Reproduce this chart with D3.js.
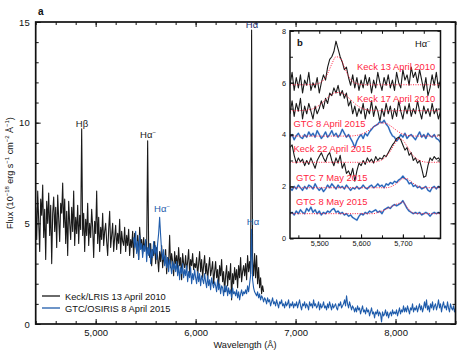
<!DOCTYPE html>
<html><head><meta charset="utf-8">
<script src="https://cdn.jsdelivr.net/npm/d3@7"></script>
<style>
html,body{margin:0;padding:0;background:#fff;}
svg{display:block;font-family:"Liberation Sans",Arial,sans-serif;}
</style></head>
<body><svg id="c" width="462" height="357"></svg>
<script>
// ---------- DATA ----------
// Panel a: Keck/LRIS 13 April 2010, flux sampled every 10 Å from 4400 Å
const keckStart = 4400, keckStep = 10;
const keckFlux = [
5.8,4.2,6.6,5.1,3.6,6.2,5.4,6.9,4.3,5.7,
3.2,6.1,5.0,6.5,4.4,5.9,3.0,5.5,6.3,4.6,
5.8,3.8,6.4,5.2,4.1,6.0,5.5,7.0,4.8,6.2,
4.0,5.6,3.4,6.1,5.0,4.2,5.8,4.6,6.6,3.9,
5.3,4.5,5.9,4.0,5.4,4.7,9.7,4.4,5.5,3.6,
5.2,4.4,6.0,3.9,5.0,4.3,5.7,4.8,3.3,5.1,
4.5,6.6,4.0,5.3,3.6,4.8,4.2,5.5,3.9,4.6,
5.0,4.1,3.4,4.7,5.6,3.8,4.4,5.0,3.6,4.3,
4.9,3.7,4.5,4.0,5.2,3.5,4.6,4.1,3.9,4.8,
3.6,4.4,3.9,4.7,3.4,4.2,3.8,4.6,3.3,4.5,
4.0,3.6,4.4,3.2,4.8,3.9,4.2,3.5,4.3,3.7,
4.1,3.6,9.1,3.8,3.3,4.0,2.9,3.7,3.4,4.1,
3.0,3.8,3.3,2.6,3.6,3.1,3.9,2.8,3.4,3.0,
3.7,2.5,3.3,3.0,4.4,2.8,3.5,3.1,2.4,3.6,
3.0,3.4,2.7,3.8,2.9,3.3,2.2,3.5,3.0,2.8,
3.4,2.6,3.1,3.7,2.5,3.2,2.9,3.5,2.7,3.0,
2.8,3.3,2.4,3.0,3.6,2.6,3.2,2.3,2.9,3.4,
2.5,3.0,2.2,2.8,3.3,2.4,2.7,3.1,2.0,2.6,
3.1,2.3,2.7,1.8,2.9,2.4,3.2,2.1,2.6,1.6,
2.4,2.9,1.9,2.6,2.2,3.0,1.2,2.5,2.0,2.8,
2.2,2.7,1.8,2.9,2.3,3.3,2.1,2.6,2.9,2.4,
3.0,2.2,3.4,2.6,3.1,2.5,14.6,3.2,2.4,3.5,
2.3,3.4,2.0,2.8,1.8,2.3,1.5,1.9,1.6
];
// Panel a: GTC/OSIRIS 8 April 2015, flux every 10 Å from 5380 Å
const gtcStart = 5380, gtcStep = 10;
const gtcFlux = [
4.3,3.8,
4.6,3.5,4.1,3.2,4.4,3.7,4.0,3.3,3.9,3.6,
4.2,3.1,3.8,3.4,4.0,3.0,3.7,3.3,4.1,3.5,
3.9,3.2,4.0,4.5,5.3,4.4,3.6,3.2,3.7,2.9,
3.4,2.8,3.3,2.6,3.2,2.9,2.5,3.1,2.7,3.0,
2.6,3.1,2.4,2.9,2.2,2.8,2.5,3.0,2.3,2.7,
2.4,2.9,2.1,2.6,2.3,2.8,2.0,2.5,2.2,2.7,
2.3,2.0,2.6,2.1,2.5,1.9,2.4,2.2,2.0,2.5,
2.1,1.8,2.4,1.9,2.2,1.7,2.3,2.0,1.8,2.1,
1.9,1.6,2.2,1.7,2.0,1.5,1.9,1.8,1.4,1.9,
1.6,1.9,1.4,1.8,1.5,1.7,1.3,1.8,1.5,1.6,
1.4,1.7,1.3,1.6,1.2,1.5,1.7,1.4,1.6,1.5,
1.7,1.5,1.9,1.6,2.0,2.4,4.7,2.2,1.8,1.6,
1.5,1.4,1.6,1.3,1.5,1.2,1.4,1.3,1.1,1.3,
1.2,1.0,1.3,1.1,1.2,0.9,1.1,1.3,1.0,1.1,
0.9,1.2,1.0,0.8,1.1,1.0,1.2,0.9,1.0,0.8,
1.1,0.9,1.0,1.2,0.8,1.0,0.9,1.1,0.8,1.0,
0.9,1.1,0.8,1.0,1.2,0.9,0.7,1.0,0.9,1.1,
0.8,1.0,0.9,0.7,1.1,0.9,1.0,0.8,1.2,0.9,
1.0,0.8,0.9,1.1,0.7,1.0,0.8,0.9,1.1,0.8,
0.9,0.7,1.0,0.8,1.1,0.9,0.7,1.0,0.8,0.9,
1.0,0.8,0.7,1.0,0.9,1.1,0.8,0.9,1.0,1.2,
0.9,1.4,1.0,0.8,1.1,0.9,0.7,0.9,0.8,0.6,
0.8,0.6,0.9,0.7,0.8,0.5,0.7,0.9,0.6,0.7,
0.5,0.8,0.6,0.7,0.4,0.6,0.8,0.5,0.6,0.3,
0.6,0.5,0.7,0.4,0.6,0.5,0.1,0.6,0.4,0.5,
0.7,0.4,0.6,0.3,0.5,0.6,0.4,0.7,0.5,0.6,
0.5,0.7,0.4,0.6,0.8,0.5,0.7,0.6,0.9,0.6,
0.8,0.6,0.9,0.7,0.5,0.8,0.7,1.0,0.6,0.8,
0.7,0.9,0.6,0.8,1.0,0.7,0.9,0.6,0.8,1.1,
0.8,1.2,0.7,0.9,0.6,1.0,0.8,1.1,0.7,0.9,
1.0,0.7,0.9,1.2,0.8,1.0,0.6,0.9,1.1,0.8,
0.9,0.7,1.1,0.8,0.6,1.0,0.8,0.7,0.9,0.6,
0.8
];
const mainLineLabels = [
  {text:"Hβ", color:"black"},
  {text:"Hα", sup:"−", color:"black"},
  {text:"Hα", color:"navy"},
  {text:"Hα", sup:"−", color:"blue"},
  {text:"Hα", color:"blue"}
];
const legendNames = ["Keck/LRIS 13 April 2010", "GTC/OSIRIS 8 April 2015"];

// Panel b: zoom on Hα⁻, every 5 Å from 5430 Å
const insetStart = 5430, insetStep = 5;
const insetNames = ["Keck 13 April 2010","Keck 17 April 2010","GTC 8 April 2015","Keck 22 April 2015","GTC 7 May 2015","GTC 8 May 2015"];
const insetInstrument = ["Keck","Keck","GTC","Keck","GTC","GTC"];
const keck13 = [5.9,6.4,5.7,6.2,5.8,6.3,5.6,6.1,5.9,6.4,5.7,6.0,5.8,6.2,5.6,6.0,6.3,6.1,6.6,6.9,7.0,7.2,7.6,7.3,7.0,6.8,6.5,6.6,6.2,5.9,6.3,5.8,6.2,5.7,6.1,5.8,6.3,5.9,6.2,5.6,6.1,5.8,6.4,6.0,5.7,6.2,5.9,6.3,5.8,6.1,5.7,6.4,6.0,5.8,6.5,6.1,6.3,5.9,6.6,6.2,6.4,6.0,6.5,6.1,5.7,6.2,5.5,5.8,6.3,5.9,6.4,5.8,6.1];
const keck17 = [4.8,5.3,4.7,5.2,4.9,5.4,4.6,5.1,4.8,5.2,4.9,4.6,5.1,4.8,5.0,5.3,5.0,5.4,5.2,5.6,5.5,5.8,5.6,5.9,5.5,5.7,5.4,5.6,5.1,5.3,4.8,5.1,4.7,5.0,4.8,5.2,4.6,5.0,4.8,5.3,4.7,5.1,4.9,4.5,5.0,4.7,5.2,4.8,5.1,4.6,5.0,4.7,5.3,4.9,4.6,5.1,4.8,5.2,4.7,5.0,4.8,5.3,4.9,4.6,5.1,4.8,5.0,4.7,5.2,4.8,5.0,4.6,4.9];
const gtc8apr = [3.9,4.0,3.8,3.95,4.05,3.9,3.85,4.0,3.9,4.1,3.95,4.05,3.9,4.15,4.0,3.85,3.95,4.1,3.9,4.0,4.15,3.95,4.05,3.9,4.0,4.2,4.05,3.9,4.0,3.85,3.7,3.5,3.75,3.9,4.0,3.85,4.05,3.95,4.1,4.2,4.3,4.35,4.4,4.5,4.45,4.55,4.4,4.3,4.1,3.95,3.9,3.75,3.85,4.0,3.9,4.05,3.85,3.95,4.0,3.9,3.8,3.95,4.1,3.9,4.0,3.85,4.05,3.95,3.9,4.0,3.85,3.8,3.7];
const keck22 = [3.5,3.6,3.2,2.9,3.1,2.95,3.05,2.8,3.0,2.85,3.1,2.9,2.7,3.0,3.15,3.3,3.1,2.95,3.2,3.3,3.0,2.8,3.1,2.9,3.2,2.7,2.9,2.5,2.6,2.4,2.7,2.2,2.6,2.9,2.8,3.0,2.85,3.1,2.95,3.05,2.9,3.15,3.0,3.1,3.05,3.2,3.15,3.3,3.45,3.6,3.7,3.85,3.9,3.8,3.6,3.4,3.5,3.2,3.3,3.0,3.1,2.9,3.0,2.7,2.35,2.4,2.8,3.1,3.0,3.15,3.05,3.1,3.0];
const gtc7may = [1.95,1.85,2.0,1.9,2.05,1.95,1.85,2.0,1.9,2.05,2.0,1.9,2.1,1.95,1.85,1.95,1.8,1.9,2.05,1.95,2.1,2.0,1.9,2.05,1.95,2.0,1.9,2.05,1.95,1.85,1.95,1.9,2.0,1.9,1.95,2.05,1.95,1.9,2.0,2.05,1.95,2.0,2.1,2.0,2.05,1.95,2.1,2.05,2.15,2.1,2.2,2.15,2.25,2.3,2.4,2.3,2.25,2.1,2.15,2.0,2.05,1.95,2.0,1.9,1.95,2.0,1.85,1.8,1.95,2.0,1.9,2.0,1.95];
const gtc8may = [0.95,1.0,0.9,1.05,0.95,1.1,1.0,0.95,1.15,1.05,1.2,1.0,1.1,0.95,1.05,0.9,1.0,0.95,1.05,1.0,1.1,1.15,1.0,1.05,0.95,1.0,0.9,0.95,0.85,0.9,0.8,0.75,0.7,0.85,0.95,0.9,1.0,0.95,1.05,1.0,1.05,1.1,1.0,1.05,0.95,1.1,1.15,1.2,1.15,1.25,1.3,1.25,1.3,1.35,1.45,1.3,1.15,1.05,1.0,0.95,1.0,0.95,1.0,0.9,0.95,1.0,0.95,0.85,0.95,1.0,0.95,1.0,0.95];
// Model fits (red dotted), every 10 Å from 5430 Å
const fitStart = 5430, fitStep = 10;
const fitKeck13 = [5.92,5.92,5.92,5.92,5.92,5.93,5.94,5.98,6.1,6.35,6.72,7.0,6.95,6.6,6.25,6.04,5.96,5.93,5.92,5.92,5.92,5.92,5.92,5.92,5.92,5.92,5.92,5.92,5.92,5.92,5.92,5.92,5.92,5.92,5.92,5.92,5.92];
const fitKeck17 = [4.92,4.92,4.92,4.93,4.94,4.97,5.03,5.13,5.27,5.42,5.55,5.62,5.62,5.55,5.42,5.27,5.13,5.03,4.97,4.94,4.93,4.92,4.92,4.92,4.92,4.92,4.92,4.92,4.92,4.92,4.92,4.92,4.92,4.92,4.92,4.92,4.92];
const fitGtc8apr = [3.94,3.94,3.94,3.94,3.94,3.94,3.94,3.94,3.94,3.94,3.94,3.94,3.94,3.94,3.94,3.95,3.97,4.01,4.08,4.18,4.3,4.4,4.45,4.43,4.34,4.22,4.1,4.02,3.97,3.95,3.94,3.94,3.94,3.94,3.94,3.94,3.94];
const fitKeck22 = [2.93,2.93,2.93,2.93,2.93,2.93,2.93,2.93,2.93,2.93,2.93,2.93,2.93,2.93,2.93,2.93,2.93,2.93,2.93,2.93,2.94,2.96,3.03,3.16,3.36,3.63,3.85,3.78,3.55,3.28,3.1,3.0,2.95,2.93,2.93,2.93,2.93];
const fitGtc7may = [1.95,1.95,1.95,1.95,1.95,1.95,1.95,1.95,1.95,1.95,1.95,1.95,1.95,1.95,1.95,1.95,1.95,1.95,1.95,1.95,1.95,1.95,1.95,1.95,1.98,2.06,2.18,2.3,2.3,2.18,2.06,1.98,1.95,1.95,1.95,1.95,1.95];
const fitGtc8may = [0.95,0.95,0.95,0.95,0.95,0.95,0.95,0.95,0.95,0.95,0.95,0.95,0.95,0.95,0.95,0.95,0.95,0.95,0.95,0.95,0.95,1.0,1.05,1.12,1.2,1.28,1.35,1.4,1.2,1.02,0.96,0.95,0.95,0.95,0.95,0.95,0.95];

// ---------- DRAW ----------
const COL = {black:"#1a1a1a", blue:"#1f5cab", navy:"#1d2b6b", red:"#ff1f3f", insetBlue:"#2160b5", halo:"#a7c3ea"};
const svg = d3.select("#c");
const FONT = "'Liberation Sans',Arial,sans-serif";

const x = d3.scaleLinear().domain([4400,8600]).range([35.7,455.5]);
const y = d3.scaleLinear().domain([0,15]).range([324,22]);

const toPts = (arr, start, step) => arr.map((v,i)=>[start+i*step, v]);

svg.append("clipPath").attr("id","clipA").append("rect")
  .attr("x",x(4400)).attr("y",y(15)).attr("width",x(8600)-x(4400)).attr("height",y(0)-y(15));

const lineA = d3.line().x(d=>x(d[0])).y(d=>y(d[1]));
const gA = svg.append("g").attr("clip-path","url(#clipA)");
gA.append("path").datum(toPts(keckFlux,keckStart,keckStep)).attr("d",lineA)
  .attr("fill","none").attr("stroke",COL.black).attr("stroke-width",1.1).attr("stroke-linejoin","round");
gA.append("path").datum(toPts(gtcFlux,gtcStart,gtcStep)).attr("d",lineA)
  .attr("fill","none").attr("stroke",COL.blue).attr("stroke-width",1.1).attr("stroke-linejoin","round");

// axes for panel a
const minorX = d3.range(4400,8601,200), majorX = [5000,6000,7000,8000];
const minorY = d3.range(0,16,1), majorY = [0,5,10,15];
function styleAxis(g){ g.select(".domain").remove(); g.selectAll("line").attr("stroke","#111").attr("stroke-width",1);
  g.selectAll("text").attr("font-family",FONT).attr("fill","#111"); }
svg.append("g").attr("transform",`translate(0,${y(0)})`)
  .call(d3.axisBottom(x).tickValues(minorX).tickSize(-3).tickFormat("")).call(styleAxis);
svg.append("g").attr("transform",`translate(0,${y(0)})`)
  .call(d3.axisBottom(x).tickValues(majorX).tickSize(-5).tickPadding(5).tickFormat(d3.format(",")))
  .call(styleAxis).selectAll("text").attr("font-size","9.5px");
svg.append("g").attr("transform",`translate(0,${y(15)})`)
  .call(d3.axisTop(x).tickValues(minorX).tickSize(-3).tickFormat("")).call(styleAxis);
svg.append("g").attr("transform",`translate(0,${y(15)})`)
  .call(d3.axisTop(x).tickValues(majorX).tickSize(-5).tickFormat("")).call(styleAxis);
svg.append("g").attr("transform",`translate(${x(4400)},0)`)
  .call(d3.axisLeft(y).tickValues(minorY).tickSize(-3).tickFormat("")).call(styleAxis);
svg.append("g").attr("transform",`translate(${x(4400)},0)`)
  .call(d3.axisLeft(y).tickValues(majorY).tickSize(-5).tickPadding(6)).call(styleAxis)
  .selectAll("text").attr("font-size","9.5px");
svg.append("g").attr("transform",`translate(${x(8600)},0)`)
  .call(d3.axisRight(y).tickValues(minorY).tickSize(-3).tickFormat("")).call(styleAxis);
svg.append("g").attr("transform",`translate(${x(8600)},0)`)
  .call(d3.axisRight(y).tickValues(majorY).tickSize(-5).tickFormat("")).call(styleAxis);
svg.append("rect").attr("x",x(4400)).attr("y",y(15)).attr("width",x(8600)-x(4400)).attr("height",y(0)-y(15))
  .attr("fill","none").attr("stroke","#111").attr("stroke-width",1.7);

// axis titles
svg.append("text").attr("x",245).attr("y",348).attr("text-anchor","middle")
  .attr("font-family",FONT).attr("font-size","9.2px").attr("fill","#111").text("Wavelength (Å)");
const yt = svg.append("text").attr("transform","translate(13,173) rotate(-90)").attr("text-anchor","middle")
  .attr("font-family",FONT).attr("font-size","9px").attr("fill","#111");
[["Flux (10",0],["−18",1],[" erg s",0],["−1",1],[" cm",0],["−2",1],[" Å",0],["−1",1],[")",0]].forEach(([t,s])=>{
  yt.append("tspan").text(t).attr("font-size",s?"6px":"9px").attr("baseline-shift",s?"4":"0");
});
svg.append("text").attr("x",38).attr("y",15).attr("font-family",FONT).attr("font-weight","bold")
  .attr("font-size","10px").attr("fill","#111").text("a");

// line labels on panel a
const labelPos = [[82,127],[148,138],[252,28],[162,212],[253,224.5]];
mainLineLabels.forEach((d,i)=>{
  const c = d.color==="blue"?COL.blue:(d.color==="navy"?COL.navy:COL.black);
  const t = svg.append("text").attr("x",labelPos[i][0]).attr("y",labelPos[i][1]).attr("text-anchor","middle")
    .attr("font-family",FONT).attr("font-size","9.5px").attr("fill",c);
  t.append("tspan").text(d.text);
  if(d.sup) t.append("tspan").text(d.sup).attr("font-size","6px").attr("baseline-shift","4");
});

// legend
[[COL.black,296],[COL.blue,308]].forEach(([c,ly],i)=>{
  svg.append("line").attr("x1",42).attr("x2",60).attr("y1",ly).attr("y2",ly).attr("stroke",c).attr("stroke-width",1.3);
  svg.append("text").attr("x",65).attr("y",ly+3.5).attr("font-family",FONT).attr("font-size","9.3px")
    .attr("fill","#111").text(legendNames[i]);
});

// ---------- INSET b ----------
const ix = d3.scaleLinear().domain([5430,5790]).range([290,440.5]);
const iy = d3.scaleLinear().domain([0,8]).range([238.3,30.8]);
svg.append("rect").attr("x",ix(5430)).attr("y",iy(8)).attr("width",ix(5790)-ix(5430)).attr("height",iy(0)-iy(8))
  .attr("fill","#fff");
svg.append("clipPath").attr("id","clipB").append("rect")
  .attr("x",ix(5430)).attr("y",iy(8)).attr("width",ix(5790)-ix(5430)).attr("height",iy(0)-iy(8));
const gB = svg.append("g").attr("clip-path","url(#clipB)");
const lineB = d3.line().x(d=>ix(d[0])).y(d=>iy(d[1]));
const fitLine = d3.line().x(d=>ix(d[0])).y(d=>iy(d[1])).curve(d3.curveMonotoneX);
const insetData = [keck13,keck17,gtc8apr,keck22,gtc7may,gtc8may];
const insetFits = [fitKeck13,fitKeck17,fitGtc8apr,fitKeck22,fitGtc7may,fitGtc8may];
insetData.forEach((arr,i)=>{
  const c = insetInstrument[i]==="Keck"?COL.black:COL.insetBlue;
  if(insetInstrument[i]==="GTC"){
    gB.append("path").datum(toPts(arr,insetStart,insetStep)).attr("d",lineB)
      .attr("fill","none").attr("stroke",COL.halo).attr("stroke-width",1.9).attr("stroke-linejoin","round");
  }
  gB.append("path").datum(toPts(arr,insetStart,insetStep)).attr("d",lineB)
    .attr("fill","none").attr("stroke",c).attr("stroke-width",1.1).attr("stroke-linejoin","round");
});
insetFits.forEach(arr=>{
  gB.append("path").datum(toPts(arr,fitStart,fitStep)).attr("d",fitLine)
    .attr("fill","none").attr("stroke",COL.red).attr("stroke-width",1).attr("stroke-dasharray","1,1.4");
});
// inset axes
const iMinorX = d3.range(5450,5790,50), iMajorX = [5500,5600,5700];
const iMinorY = d3.range(0,9,1), iMajorY = [0,2,4,6,8];
svg.append("g").attr("transform",`translate(0,${iy(0)})`)
  .call(d3.axisBottom(ix).tickValues(iMinorX).tickSize(-3).tickFormat("")).call(styleAxis);
svg.append("g").attr("transform",`translate(0,${iy(0)})`)
  .call(d3.axisBottom(ix).tickValues(iMajorX).tickSize(-4).tickPadding(3).tickFormat(d3.format(",")))
  .call(styleAxis).selectAll("text").attr("font-size","7.3px");
svg.append("g").attr("transform",`translate(0,${iy(8)})`)
  .call(d3.axisTop(ix).tickValues(iMinorX).tickSize(-3).tickFormat("")).call(styleAxis);
svg.append("g").attr("transform",`translate(${ix(5430)},0)`)
  .call(d3.axisLeft(iy).tickValues(iMinorY).tickSize(-3).tickFormat("")).call(styleAxis);
svg.append("g").attr("transform",`translate(${ix(5430)},0)`)
  .call(d3.axisLeft(iy).tickValues(iMajorY).tickSize(-4).tickPadding(4)).call(styleAxis)
  .selectAll("text").attr("font-size","7.3px");
svg.append("g").attr("transform",`translate(${ix(5790)},0)`)
  .call(d3.axisRight(iy).tickValues(iMinorY).tickSize(-3).tickFormat("")).call(styleAxis);
svg.append("rect").attr("x",ix(5430)).attr("y",iy(8)).attr("width",ix(5790)-ix(5430)).attr("height",iy(0)-iy(8))
  .attr("fill","none").attr("stroke","#111").attr("stroke-width",1.5);

// inset labels
const insetLabelPos = [[357,70],[357,101.5],[293.5,127],[293.5,152],[296,180.5],[296,205]];
insetNames.forEach((n,i)=>{
  svg.append("text").attr("x",insetLabelPos[i][0]).attr("y",insetLabelPos[i][1])
    .attr("font-family",FONT).attr("font-size","9.4px").attr("fill",COL.red).text(n);
});
svg.append("text").attr("x",297).attr("y",46).attr("font-family",FONT).attr("font-weight","bold")
  .attr("font-size","9.5px").attr("fill","#111").text("b");
const ih = svg.append("text").attr("x",415).attr("y",47).attr("font-family",FONT).attr("font-size","9.3px").attr("fill","#111");
ih.append("tspan").text("Hα");
ih.append("tspan").text("−").attr("font-size","6px").attr("baseline-shift","4");
</script>
</body></html>
